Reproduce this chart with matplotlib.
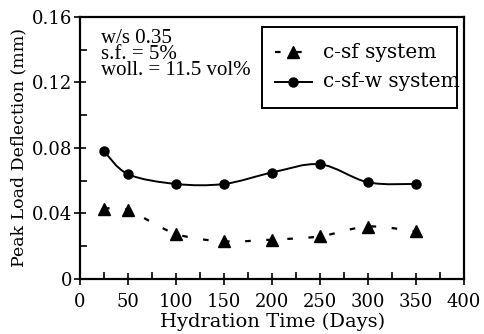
import matplotlib
matplotlib.use("Agg")
import matplotlib.pyplot as plt
from matplotlib.path import Path
from matplotlib.patches import PathPatch, Rectangle
from matplotlib.ticker import MultipleLocator

days = [25, 50, 100, 150, 200, 250, 300, 350]
c_sf = [0.043, 0.042, 0.0275, 0.023, 0.024, 0.026, 0.032, 0.029]
c_sf_w = [0.078, 0.064, 0.058, 0.058, 0.065, 0.070, 0.059, 0.058]
x_ticks = [0, 50, 100, 150, 200, 250, 300, 350, 400]
y_ticks = [0, 0.04, 0.08, 0.12, 0.16]
y_tick_labels = ["0", "0.04", "0.08", "0.12", "0.16"]
labels = ["c-sf system", "c-sf-w system"]


def smooth_path(x, y):
    # catmull-rom through the points, as bezier segments in data coords
    n = len(x)
    verts = [(x[0], y[0])]
    codes = [Path.MOVETO]
    for i in range(n - 1):
        p0 = i - 1 if i > 0 else i
        p3 = i + 2 if i + 2 < n else i + 1
        c1 = (x[i] + (x[i + 1] - x[p0]) / 6, y[i] + (y[i + 1] - y[p0]) / 6)
        c2 = (x[i + 1] - (x[p3] - x[i]) / 6, y[i + 1] - (y[p3] - y[i]) / 6)
        verts += [c1, c2, (x[i + 1], y[i + 1])]
        codes += [Path.CURVE4] * 3
    return Path(verts, codes)


plt.rcParams["font.family"] = "DejaVu Serif"
dash = (0, (2.5, 7))

fig = plt.figure(figsize=(4.85, 3.34), dpi=100)
ax = fig.add_axes([0.165, 0.165, 0.792, 0.784])

ax.add_patch(PathPatch(smooth_path(days, c_sf_w), fill=False, lw=1.4, color="black"))
ax.plot(days, c_sf_w, "o", color="black", ms=6.5)

ax.add_patch(PathPatch(smooth_path(days, c_sf), fill=False, lw=1.6, color="black",
                       linestyle=dash))
ax.plot(days, c_sf, "^", color="black", ms=8)

ax.set_xlim(0, 400)
ax.set_ylim(0, 0.16)
ax.set_xticks(x_ticks)
ax.set_yticks(y_ticks)
ax.set_yticklabels(y_tick_labels)
ax.xaxis.set_minor_locator(MultipleLocator(25))
ax.yaxis.set_minor_locator(MultipleLocator(0.02))
ax.tick_params(which="major", direction="inout", length=9, width=1.2, labelsize=13)
ax.tick_params(axis="x", which="major", pad=6)
ax.tick_params(axis="y", which="major", pad=1)
ax.tick_params(which="minor", direction="in", length=5, width=1.2)
for s in ax.spines.values():
    s.set_linewidth(1.6)

ax.set_xlabel("Hydration Time (Days)", fontsize=14, labelpad=1)
ax.set_ylabel("Peak Load Deflection (mm)", fontsize=12.5, labelpad=3)

ax.text(0.055, 0.955, "w/s 0.35\ns.f. = 5%\nwoll. = 11.5 vol%", transform=ax.transAxes,
        fontsize=15, family="Liberation Serif", va="top", linespacing=0.8)

# legend drawn by hand: the labels run past the frame in the original
ax.add_patch(Rectangle((0.474, 0.653), 0.508, 0.309, transform=ax.transAxes,
                       fill=False, lw=1.4, edgecolor="black", clip_on=False))
ax.plot([0.508, 0.604], [0.866, 0.866], transform=ax.transAxes, color="black",
        lw=1.6, linestyle=dash, clip_on=False)
ax.plot([0.555], [0.866], "^", transform=ax.transAxes, color="black", ms=8, clip_on=False)
ax.plot([0.508, 0.604], [0.752, 0.752], transform=ax.transAxes, color="black",
        lw=1.4, clip_on=False)
ax.plot([0.555], [0.752], "o", transform=ax.transAxes, color="black", ms=6.5, clip_on=False)
ax.text(0.633, 0.866, labels[0], transform=ax.transAxes, fontsize=14.5, va="center")
ax.text(0.633, 0.752, labels[1], transform=ax.transAxes, fontsize=14.5, va="center")

fig.savefig("out.png", dpi=100)
